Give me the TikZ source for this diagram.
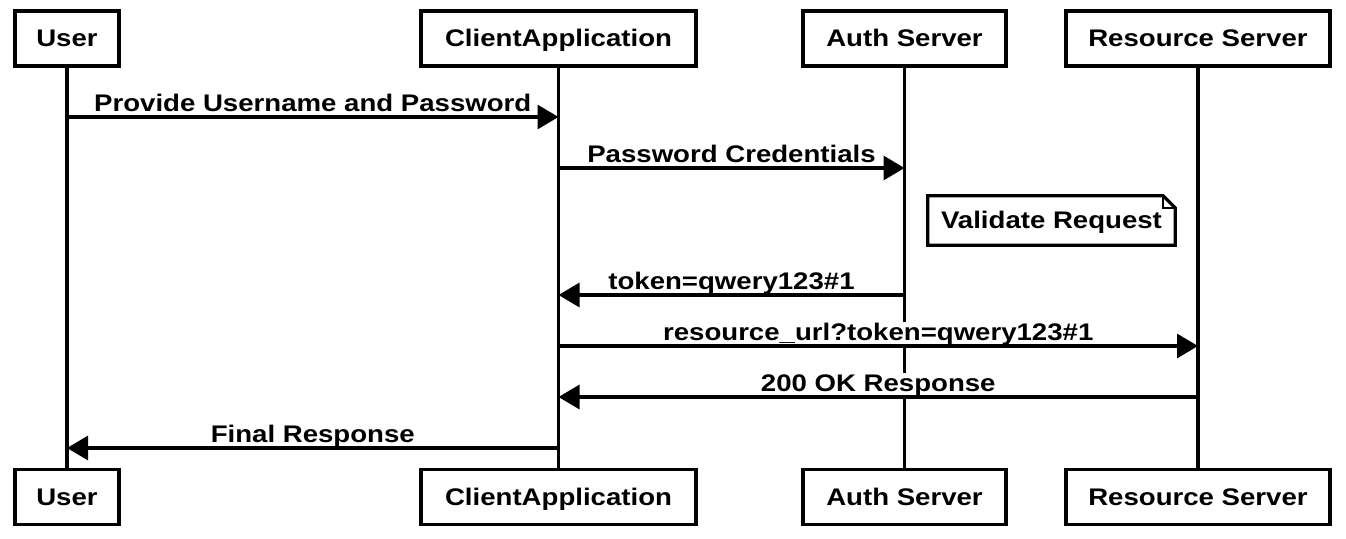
\documentclass[tikz,border=0pt]{standalone}
\usepackage{fontspec}
\setmainfont[FakeStretch=1.15]{Liberation Sans}
\usetikzlibrary{arrows.meta,calc}
\begin{document}
\begin{tikzpicture}[x=1pt,y=-1pt,
  txt/.style={font=\bfseries\fontsize{24}{28}\selectfont},
  actor/.style={txt, draw, line width=3.4pt, fill=white, minimum height=55pt, inner sep=0pt, text height=19pt, text depth=3pt},
  life/.style={line width=3.2pt},
  msg/.style={line width=3.2pt, -{Triangle[length=21pt,width=24pt]}},
  lbl/.style={txt, fill=white, inner sep=1pt, anchor=base}
]
\useasboundingbox (0,0) rectangle (1346,538);
\fill[white] (0,0) rectangle (1346,538);
% top actors
\node[actor, minimum width=104pt] (ut) at (67,38.5) {User};
\node[actor, minimum width=275pt] (ct) at (558.5,38.5) {ClientApplication};
\node[actor, minimum width=203pt] (at) at (904.5,38.5) {Auth Server};
\node[actor, minimum width=264pt] (rt) at (1198,38.5) {Resource Server};
% bottom actors
\node[actor, minimum width=104pt] (ub) at (67,497) {User};
\node[actor, minimum width=275pt] (cb) at (558.5,497) {ClientApplication};
\node[actor, minimum width=203pt] (ab) at (904.5,497) {Auth Server};
\node[actor, minimum width=264pt] (rb) at (1198,497) {Resource Server};
% lifelines
\draw[life] (ut.south) -- (ub.north);
\draw[life] (ct.south) -- (cb.north);
\draw[life] (at.south) -- (ab.north);
\draw[life] (rt.south) -- (rb.north);
% labels
\node[lbl] (l1) at ($(ut.south |- 0,111)!0.5!(ct.south |- 0,111)$) {Provide Username and Password};
\node[lbl] (l2) at ($(ct.south |- 0,162)!0.5!(at.south |- 0,162)$) {Password Credentials};
\node[lbl] (l3) at ($(ct.south |- 0,289)!0.5!(at.south |- 0,289)$) {token=qwery123\#1};
\node[lbl] (l4) at ($(ct.south |- 0,340)!0.5!(rt.south |- 0,340)$) {resource\_url?token=qwery123\#1};
\node[lbl] (l5) at ($(ct.south |- 0,391)!0.5!(rt.south |- 0,391)$) {200 OK Response};
\node[lbl] (l6) at ($(ut.south |- 0,442)!0.5!(ct.south |- 0,442)$) {Final Response};
% messages
\draw[msg] (ut.south |- 0,117) -- (ct.south |- 0,117);
\draw[msg] (ct.south |- 0,168) -- (at.south |- 0,168);
\draw[msg] (at.south |- 0,295) -- (ct.south |- 0,295);
\draw[msg] (ct.south |- 0,346) -- (rt.south |- 0,346);
\draw[msg] (rt.south |- 0,397) -- (ct.south |- 0,397);
\draw[msg] (ct.south |- 0,448) -- (ut.south |- 0,448);
% note
\node[txt, minimum width=247pt, minimum height=49pt, inner sep=0pt, text height=19pt, text depth=3pt] (vr) at (1051.5,220.5) {Validate Request};
\draw[line width=3.2pt, line join=miter] (vr.north west) -- ([xshift=-12pt]vr.north east) -- ([yshift=-12pt]vr.north east) -- (vr.south east) -- (vr.south west) -- cycle;
\draw[line width=2pt] ([xshift=-12pt]vr.north east) -- ([xshift=-12pt,yshift=-12pt]vr.north east) -- ([yshift=-12pt]vr.north east);
\end{tikzpicture}
\end{document}
